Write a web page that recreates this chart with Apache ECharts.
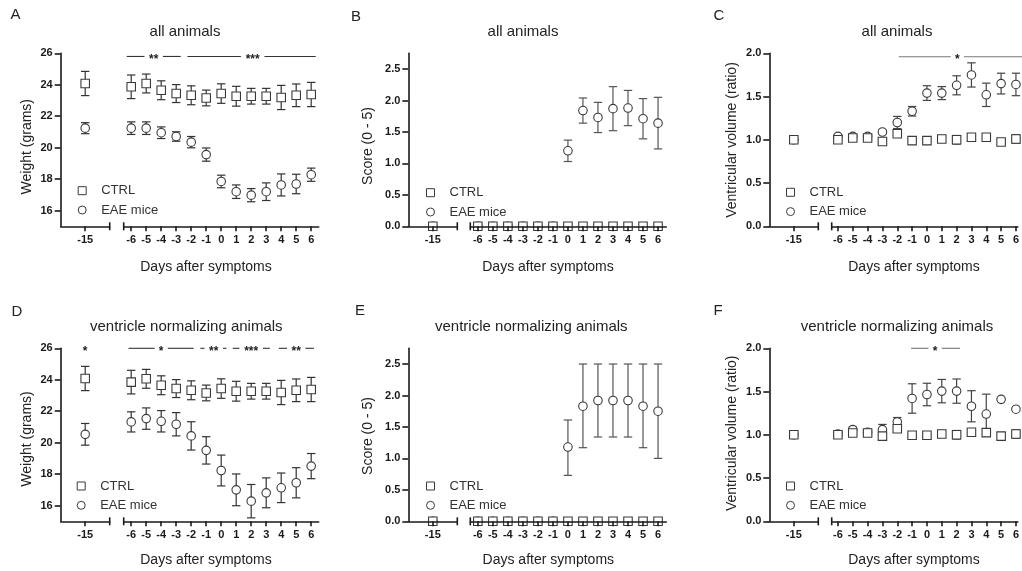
<!DOCTYPE html>
<html><head><meta charset="utf-8">
<script src="https://cdn.jsdelivr.net/npm/echarts@6/dist/echarts.min.js"></script>
<style>html,body{margin:0;padding:0;background:#fff}#c{width:1022px;height:571px}</style>
</head><body><div id="c"></div>
<script>
// ---------- DATA ----------
const days = [-15, -6, -5, -4, -3, -2, -1, 0, 1, 2, 3, 4, 5, 6];
const leftDays = [-15];
const rightDays = [-6, -5, -4, -3, -2, -1, 0, 1, 2, 3, 4, 5, 6];
const weightTicks = [16, 18, 20, 22, 24, 26];
const scoreTicks = [0, 0.5, 1.0, 1.5, 2.0, 2.5];
const volumeTicks = [0, 0.5, 1.0, 1.5, 2.0];

// A: weight, all animals (mean, sem)
const A_ctrl    = [24.08, 23.87, 24.08, 23.65, 23.44, 23.33, 23.16, 23.44, 23.27, 23.27, 23.27, 23.19, 23.33, 23.38];
const A_ctrlErr = [0.77, 0.75, 0.60, 0.60, 0.57, 0.60, 0.50, 0.62, 0.63, 0.50, 0.50, 0.77, 0.72, 0.77];
const A_eae     = [21.24, 21.24, 21.24, 20.95, 20.71, 20.35, 19.56, 17.85, 17.20, 16.98, 17.20, 17.63, 17.69, 18.28];
const A_eaeErr  = [0.35, 0.40, 0.40, 0.37, 0.30, 0.36, 0.42, 0.40, 0.43, 0.42, 0.56, 0.70, 0.62, 0.42];
const A_sig = [{from: -6.3, to: -2.7, at: -4.5, y: 25.8, text: '**'}, {from: -2.25, to: 6.3, at: 2.1, y: 25.8, text: '***'}];

// B: score, all animals
const B_ctrl    = [0, 0, 0, 0, 0, 0, 0, 0, 0, 0, 0, 0, 0, 0];
const B_ctrlErr = [0, 0, 0, 0, 0, 0, 0, 0, 0, 0, 0, 0, 0, 0];
const B_eae     = [0, 0, 0, 0, 0, 0, 0, 1.20, 1.84, 1.73, 1.87, 1.88, 1.71, 1.64];
const B_eaeErr  = [0, 0, 0, 0, 0, 0, 0, 0.17, 0.20, 0.24, 0.35, 0.28, 0.32, 0.41];

// C: ventricular volume, all animals
const C_ctrl    = [1.00, 1.00, 1.02, 1.02, 0.98, 1.07, 0.99, 0.99, 1.01, 1.00, 1.03, 1.03, 0.975, 1.01];
const C_ctrlErr = [0.01, 0.02, 0.03, 0.02, 0.03, 0.03, 0.01, 0.01, 0.04, 0.05, 0.04, 0.04, 0.03, 0.05];
const C_eae     = [1.00, 1.04, 1.04, 1.04, 1.09, 1.20, 1.33, 1.54, 1.54, 1.63, 1.75, 1.52, 1.65, 1.64];
const C_eaeErr  = [0.01, 0.02, 0.02, 0.02, 0.02, 0.07, 0.055, 0.085, 0.075, 0.11, 0.14, 0.135, 0.12, 0.13];
const C_sig = [{from: -1.9, to: 6.6, at: 2.05, y: 1.96, text: '*'}];

// D: weight, ventricle normalizing animals
const D_ctrl    = [24.08, 23.85, 24.06, 23.65, 23.44, 23.33, 23.16, 23.44, 23.27, 23.27, 23.27, 23.19, 23.33, 23.38];
const D_ctrlErr = [0.77, 0.75, 0.60, 0.60, 0.57, 0.60, 0.50, 0.62, 0.63, 0.50, 0.50, 0.77, 0.72, 0.77];
const D_eae     = [20.53, 21.32, 21.53, 21.36, 21.17, 20.43, 19.51, 18.23, 17.00, 16.28, 16.81, 17.13, 17.45, 18.51];
const D_eaeErr  = [0.69, 0.64, 0.68, 0.68, 0.74, 0.90, 0.87, 0.98, 1.01, 1.06, 0.95, 0.94, 0.96, 0.80];
const D_sig = [{from: -6.18, to: -1.84, at: -4.0, y: 26.0, text: '*'}, {from: -1.39, to: 0.35, at: -0.5, y: 26.0, text: '**'},
               {from: 0.77, to: 3.24, at: 2.0, y: 26.0, text: '***'}, {from: 3.84, to: 6.18, at: 5.0, y: 26.0, text: '**'}];
const D_sigLeft = [{from: -15, to: -15, at: -15, y: 25.95, text: '*'}];

// E: score, ventricle normalizing animals (mean, low, high)
const E_ctrl    = [0, 0, 0, 0, 0, 0, 0, 0, 0, 0, 0, 0, 0, 0];
const E_eae     = [0, 0, 0, 0, 0, 0, 0, 1.18, 1.83, 1.92, 1.92, 1.92, 1.83, 1.75];
const E_eaeLow  = [0, 0, 0, 0, 0, 0, 0, 0.73, 1.17, 1.34, 1.34, 1.34, 1.17, 1.00];
const E_eaeHigh = [0, 0, 0, 0, 0, 0, 0, 1.61, 2.50, 2.50, 2.50, 2.50, 2.50, 2.50];

// F: ventricular volume, ventricle normalizing animals
const F_ctrl    = [1.00, 1.00, 1.02, 1.02, 0.985, 1.07, 0.995, 0.995, 1.01, 1.00, 1.03, 1.025, 0.985, 1.01];
const F_ctrlErr = [0.01, 0.02, 0.03, 0.02, 0.04, 0.03, 0.01, 0.01, 0.04, 0.05, 0.04, 0.04, 0.03, 0.05];
const F_eae     = [1.00, 1.01, 1.06, 1.03, 1.06, 1.15, 1.42, 1.466, 1.505, 1.505, 1.33, 1.24, 1.41, 1.296];
const F_eaeErr  = [0.01, 0.02, 0.03, 0.02, 0.06, 0.05, 0.17, 0.13, 0.135, 0.14, 0.18, 0.23, 0, 0];
const F_sig = [{from: -1.07, to: 2.23, at: 0.55, y: 2.0, text: '*'}];

// ---------- helpers ----------
const sym = (m, e) => ({mean: m, low: m.map((v, i) => v - e[i]), high: m.map((v, i) => v + e[i])});
const asym = (m, lo, hi) => ({mean: m, low: lo, high: hi});

const panels = [
  {id: 'A', row: 0, col: 0, title: 'all animals', yName: 'Weight (grams)', yMin: 15, yMax: 26, yTicks: weightTicks, dec: 0,
   ctrl: sym(A_ctrl, A_ctrlErr), eae: sym(A_eae, A_eaeErr), sig: A_sig, sigLeft: [], errColor: '#333', sigColor: '#333', axisTop: false},
  {id: 'B', row: 0, col: 1, title: 'all animals', yName: 'Score (0 - 5)', yMin: 0, yMax: 2.75, yTicks: scoreTicks, dec: 1,
   ctrl: sym(B_ctrl, B_ctrlErr), eae: sym(B_eae, B_eaeErr), sig: [], sigLeft: [], errColor: '#555', sigColor: '#555', axisTop: true},
  {id: 'C', row: 0, col: 2, title: 'all animals', yName: 'Ventricular volume (ratio)', yMin: 0, yMax: 2, yTicks: volumeTicks, dec: 1,
   ctrl: sym(C_ctrl, C_ctrlErr), eae: sym(C_eae, C_eaeErr), sig: C_sig, sigLeft: [], errColor: '#444', sigColor: '#777', axisTop: false},
  {id: 'D', row: 1, col: 0, title: 'ventricle normalizing animals', yName: 'Weight (grams)', yMin: 15, yMax: 26, yTicks: weightTicks, dec: 0,
   ctrl: sym(D_ctrl, D_ctrlErr), eae: sym(D_eae, D_eaeErr), sig: D_sig, sigLeft: D_sigLeft, errColor: '#333', sigColor: '#333', axisTop: false},
  {id: 'E', row: 1, col: 1, title: 'ventricle normalizing animals', yName: 'Score (0 - 5)', yMin: 0, yMax: 2.75, yTicks: scoreTicks, dec: 1,
   ctrl: sym(E_ctrl, E_ctrl), eae: asym(E_eae, E_eaeLow, E_eaeHigh), sig: [], sigLeft: [], errColor: '#555', sigColor: '#555', axisTop: true},
  {id: 'F', row: 1, col: 2, title: 'ventricle normalizing animals', yName: 'Ventricular volume (ratio)', yMin: 0, yMax: 2, yTicks: volumeTicks, dec: 1,
   ctrl: sym(F_ctrl, F_ctrlErr), eae: sym(F_eae, F_eaeErr), sig: F_sig, sigLeft: [], errColor: '#444', sigColor: '#777', axisTop: false}
];

// ---------- layout (positions / styles only) ----------
const colX = [60.7, 408.3, 769.3];
const rowTop = [53.3, 348.3];
const PH = 173, LW = 49;
// right-segment geometry per column: [gap from y axis, width, min, max]
const rightGeom = [[63, 195, -6.5, 6.5], [62, 196, -6.5, 6.55], [62.4, 190.3, -6.42, 6.13]];
const letterPos = [[15.5, 15], [356, 16.5], [719, 16], [17, 311.5], [360, 310.5], [718, 311]];
const titlePos = [[185, 31.7], [523, 31.7], [897, 31.7], [186.3, 326.7], [531.3, 326.7], [897, 326.7]];
const xNamePos = [[206, 266.7], [548, 266.7], [914, 266.7], [206, 560], [548.3, 560], [914, 560]];
const yNamePos = [[26.7, 146.7], [368.3, 146], [731.7, 140], [26.7, 439], [368.3, 436], [731.7, 433.3]];
const legendPos = [[81.7, 190.7], [430, 192.7], [790, 192.3], [80.7, 486], [430, 486], [790, 486]];

const FONT = '"Liberation Sans", Arial, sans-serif';
const AX = '#1a1a1a';
const MK = '#3a3a3a';

function errData(s, keep) {
  const out = [];
  days.forEach((d, i) => { if (keep(d)) out.push([d, s.low[i], s.high[i]]); });
  return out;
}
function ptData(s, keep) {
  const out = [];
  days.forEach((d, i) => { if (keep(d)) out.push([d, s.mean[i]]); });
  return out;
}
function errRender(color) {
  return function (params, api) {
    const x = api.value(0), lo = api.value(1), hi = api.value(2);
    if (!(hi - lo > 0)) return null;
    const p1 = api.coord([x, lo]), p2 = api.coord([x, hi]);
    const cw = 4.2;
    const st = {stroke: color, lineWidth: 1.2};
    return {type: 'group', children: [
      {type: 'line', shape: {x1: p1[0], y1: p1[1], x2: p2[0], y2: p2[1]}, style: st},
      {type: 'line', shape: {x1: p1[0] - cw, y1: p1[1], x2: p1[0] + cw, y2: p1[1]}, style: st},
      {type: 'line', shape: {x1: p2[0] - cw, y1: p2[1], x2: p2[0] + cw, y2: p2[1]}, style: st}
    ]};
  };
}
function sigRender(list, color) {
  return function (params, api) {
    const s = list[params.dataIndex];
    const a = api.coord([s.from, s.y]), b = api.coord([s.to, s.y]), m = api.coord([s.at, s.y]);
    const half = s.text.length * 2.6 + 4;
    const st = {stroke: color, lineWidth: 1.1};
    const ch = [{type: 'text', x: m[0], y: m[1] + 3, style: {text: s.text, fill: '#222', font: 'bold 12px ' + FONT, align: 'center', verticalAlign: 'middle'}}];
    if (m[0] - half > a[0]) ch.push({type: 'line', shape: {x1: a[0], y1: a[1], x2: m[0] - half, y2: a[1]}, style: st});
    if (m[0] + half < b[0]) ch.push({type: 'line', shape: {x1: m[0] + half, y1: b[1], x2: b[0], y2: b[1]}, style: st});
    return {type: 'group', children: ch};
  };
}
function breakRender(params, api) {
  const p = api.coord([api.value(0), api.value(1)]);
  return {type: 'line', shape: {x1: p[0], y1: p[1] - 4, x2: p[0], y2: p[1] + 4}, style: {stroke: AX, lineWidth: 1.6}};
}

const option = {
  animation: false,
  backgroundColor: '#fff',
  textStyle: {fontFamily: FONT},
  grid: [], xAxis: [], yAxis: [], series: [], legend: [], graphic: []
};

const isLeft = d => d < -10;
const isRight = d => d >= -6;

panels.forEach((p, i) => {
  const gx = colX[p.col], gy = rowTop[p.row];
  const rg = rightGeom[p.col];
  option.grid.push({left: gx, top: gy, width: LW, height: PH, containLabel: false});
  option.grid.push({left: gx + rg[0], top: gy, width: rg[1], height: PH, containLabel: false});
  const lineSt = {color: AX, width: 1.6};
  const xLab = {fontWeight: 'bold', fontSize: 11, color: AX, margin: 8, fontFamily: FONT, formatter: v => String(v)};
  [[-16.5, -13.5, leftDays], [rg[2], rg[3], rightDays]].forEach((ax, k) => {
    option.xAxis.push({
      gridIndex: 2 * i + k, type: 'value', min: ax[0], max: ax[1], z: p.axisTop ? 10 : 0,
      axisLine: {show: true, onZero: false, lineStyle: lineSt},
      axisTick: {show: true, customValues: ax[2], length: 5, lineStyle: lineSt},
      axisLabel: Object.assign({customValues: ax[2]}, xLab),
      splitLine: {show: false}
    });
  });
  option.yAxis.push({
    gridIndex: 2 * i, type: 'value', min: p.yMin, max: p.yMax,
    axisLine: {show: true, onZero: false, lineStyle: lineSt},
    axisTick: {show: true, customValues: p.yTicks, length: 6, lineStyle: lineSt},
    axisLabel: {customValues: p.yTicks, fontWeight: 'bold', fontSize: 11, color: AX, margin: 8, fontFamily: FONT,
                formatter: v => Number(v).toFixed(p.dec)},
    splitLine: {show: false}
  });
  option.yAxis.push({gridIndex: 2 * i + 1, type: 'value', min: p.yMin, max: p.yMax, show: false});

  [[2 * i, isLeft, -13.5], [2 * i + 1, isRight, rg[2]]].forEach(([ax, keep, brk]) => {
    option.series.push({type: 'custom', xAxisIndex: ax, yAxisIndex: ax, clip: false, z: 2, silent: true,
      renderItem: errRender(p.errColor), data: errData(p.eae, keep)});
    option.series.push({type: 'custom', xAxisIndex: ax, yAxisIndex: ax, clip: false, z: 2, silent: true,
      renderItem: errRender(p.errColor), data: errData(p.ctrl, keep)});
    option.series.push({type: 'scatter', name: 'EAE mice', xAxisIndex: ax, yAxisIndex: ax, clip: false, z: 3,
      symbol: 'circle', symbolSize: 8.5, itemStyle: {color: '#fff', borderColor: MK, borderWidth: 1.1, opacity: 1},
      data: ptData(p.eae, keep)});
    option.series.push({type: 'scatter', name: 'CTRL', xAxisIndex: ax, yAxisIndex: ax, clip: false, z: 4,
      symbol: 'rect', symbolSize: 8.5, itemStyle: {color: '#fff', borderColor: MK, borderWidth: 1.1, opacity: 1},
      data: ptData(p.ctrl, keep)});
    option.series.push({type: 'custom', xAxisIndex: ax, yAxisIndex: ax, clip: false, z: 11, silent: true,
      renderItem: breakRender, data: [[brk, p.yMin]]});
  });
  if (p.sig.length) option.series.push({type: 'custom', xAxisIndex: 2 * i + 1, yAxisIndex: 2 * i + 1, clip: false, z: 5, silent: true,
    renderItem: sigRender(p.sig, p.sigColor), data: p.sig.map(s => [s.at, s.y])});
  if (p.sigLeft.length) option.series.push({type: 'custom', xAxisIndex: 2 * i, yAxisIndex: 2 * i, clip: false, z: 5, silent: true,
    renderItem: sigRender(p.sigLeft, p.sigColor), data: p.sigLeft.map(s => [s.at, s.y])});

  const lp = legendPos[i];
  option.legend.push({
    orient: 'vertical', left: lp[0] - 4, top: lp[1] - 7, padding: 0, itemGap: 5.3, itemWidth: 8, itemHeight: 8,
    selectedMode: false,
    itemStyle: {borderWidth: 1},
    textStyle: {fontSize: 13, color: '#333', fontFamily: FONT, lineHeight: 14, padding: [0, 0, 0, 10]},
    data: [{name: 'CTRL', icon: 'rect'}, {name: 'EAE mice', icon: 'circle'}]
  });

  const t = (pos, text, font, extra) => Object.assign({type: 'text', x: pos[0], y: pos[1], silent: true,
    style: {text, font, fill: '#222', align: 'center', verticalAlign: 'middle'}}, extra || {});
  option.graphic.push(t(letterPos[i], p.id, '15px ' + FONT));
  option.graphic.push(t(titlePos[i], p.title, '15px ' + FONT));
  option.graphic.push(t(xNamePos[i], 'Days after symptoms', '14px ' + FONT));
  option.graphic.push(t(yNamePos[i], p.yName, '14px ' + FONT, {rotation: Math.PI / 2}));
});

const chart = echarts.init(document.getElementById('c'), null, {renderer: 'canvas'});
chart.setOption(option);
</script>
</body></html>
